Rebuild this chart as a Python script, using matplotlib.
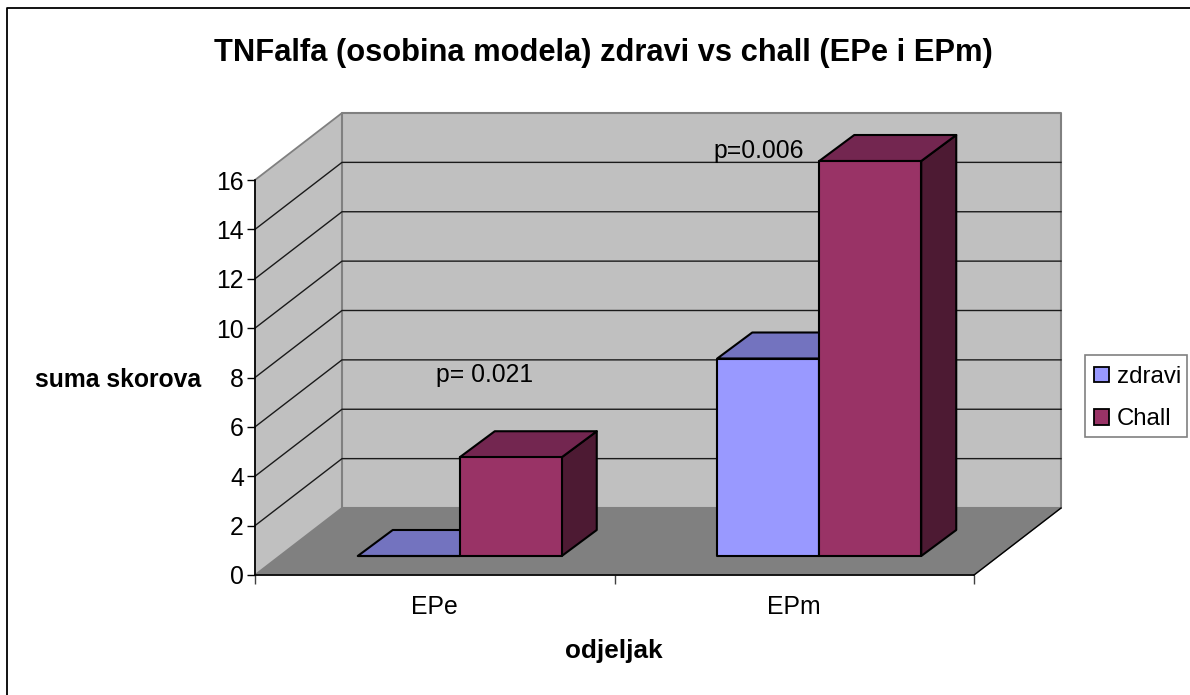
import matplotlib
matplotlib.use("Agg")
from matplotlib import pyplot as plt
from matplotlib.patches import Polygon, Rectangle
from matplotlib.lines import Line2D

plt.rcParams['font.family'] = ['Liberation Sans', 'DejaVu Sans']

categories = ["EPe", "EPm"]
series_names = ["zdravi", "Chall"]
zdravi = [0, 8]
chall = [4, 16]
y_ticks = [0, 2, 4, 6, 8, 10, 12, 14, 16]
p_labels = ["p= 0.021", "p=0.006"]
p_x = [0.503, 1.274]
p_y = [7.82, 16.88]

W, H = 1190, 695
fig = plt.figure(figsize=(W/100, H/100), dpi=100)
# only the top and left edge of the chart frame are in the picture
fig.add_artist(Line2D([6.5/W, 6.5/W, 1], [0, 1-7.5/H, 1-7.5/H], color='black', linewidth=1.3))

ax = fig.add_axes([255/W, 1-575/H, 719/W, 395/H])
ax.set_xlim(0, 2)
ax.set_ylim(0, 16)
px_x = 2/719      # x units per pixel
px_y = 16/395     # y units per pixel

# depth of the 3d box, in pixels
wall_dx, wall_dy = 87*px_x, 67*px_y
front_dx, front_dy = 25*px_x, 19*px_y
bar_dx, bar_dy = 35*px_x, 26*px_y
bar_w = 102*px_x

def poly(pts, fc, ec='black', lw=1.5, z=2):
    ax.add_patch(Polygon(pts, closed=True, facecolor=fc, edgecolor=ec, linewidth=lw,
                         zorder=z, clip_on=False, joinstyle='round'))

# walls and floor
poly([(0, 0), (wall_dx, wall_dy), (2+wall_dx, wall_dy), (2, 0)], '#808080', ec='#808080', lw=1, z=1)
poly([(0, 0), (wall_dx, wall_dy), (wall_dx, 16+wall_dy), (0, 16)], '#c0c0c0', ec='#808080', lw=1.3, z=1)
poly([(wall_dx, wall_dy), (2+wall_dx, wall_dy), (2+wall_dx, 16+wall_dy), (wall_dx, 16+wall_dy)],
     '#c0c0c0', ec='#808080', lw=1.5, z=1)
ax.plot([2, 2+wall_dx], [0, wall_dy], color='black', lw=1, zorder=1.5, clip_on=False)

# gridlines
for v in y_ticks[1:-1]:
    ax.plot([0, wall_dx, 2+wall_dx], [v, v+wall_dy, v+wall_dy], color='#1a1a1a', lw=1,
            zorder=1.5, clip_on=False)

# bars
colors = ['#9999ff', '#993366']
tops = ['#7373bf', '#732650']
sides = ['#5c5c99', '#4d1a33']
for i in range(len(categories)):
    left = i + 0.5 - bar_w + front_dx
    for j, vals in enumerate([zdravi, chall]):
        x0 = left + j*bar_w
        x1 = x0 + bar_w
        y0 = front_dy
        y1 = vals[i] + front_dy
        poly([(x1, y0), (x1+bar_dx, y0+bar_dy), (x1+bar_dx, y1+bar_dy), (x1, y1)], sides[j], z=3+j)
        poly([(x0, y1), (x0+bar_dx, y1+bar_dy), (x1+bar_dx, y1+bar_dy), (x1, y1)], tops[j], z=3+j)
        poly([(x0, y0), (x1, y0), (x1, y1), (x0, y1)], colors[j], z=3+j)

for x, y, s in zip(p_x, p_y, p_labels):
    ax.text(x, y, s, fontsize=17.8, va='baseline', ha='left', zorder=6, color='black')

# axes
for s in ['top', 'right']:
    ax.spines[s].set_visible(False)
for s in ['left', 'bottom']:
    ax.spines[s].set_linewidth(1.2)
    ax.spines[s].set_zorder(2.5)
ax.patch.set_visible(False)
ax.set_yticks(y_ticks)
ax.tick_params(axis='y', labelsize=17.8, length=6, width=1, pad=2)
ax.set_xticks([0, 1, 2])
ax.set_xticklabels([])
ax.tick_params(axis='x', length=6.5, width=1, color='#404040')
ax.set_xticks([0.5, 1.5], minor=True)
ax.set_xticklabels(categories, minor=True, fontsize=17.8)
ax.tick_params(axis='x', which='minor', length=0, pad=14.5)

fig.text(603/W, 1-61/H, "TNFalfa (osobina modela) zdravi vs chall (EPe i EPm)",
         fontsize=22.2, fontweight='bold', ha='center', va='baseline')
fig.text(118/W, 1-387/H, "suma skorova", fontsize=17.8, fontweight='bold', ha='center', va='baseline')
fig.text(614/W, 1-658/H, "odjeljak", fontsize=18.8, fontweight='bold', ha='center', va='baseline')

# legend, the box is drawn on its own so the rows sit where they should
fig.add_artist(Rectangle((1084.5/W, 1-437/H), 102/W, 82/H, transform=fig.transFigure,
                         facecolor='white', edgecolor='#808080', linewidth=1.2, zorder=4))
handles = [Rectangle((0, 0), 1, 1, facecolor=c, edgecolor='black', linewidth=1.3) for c in colors]
leg = fig.legend(handles, series_names, loc='upper left', bbox_to_anchor=(1094/W, 1-366/H),
                 bbox_transform=fig.transFigure, fontsize=17.3, frameon=False,
                 borderaxespad=0, borderpad=0, labelspacing=0.84,
                 handlelength=0.62, handleheight=0.62, handletextpad=0.32)
leg.set_zorder(5)

plt.savefig("out.png", dpi=100)
